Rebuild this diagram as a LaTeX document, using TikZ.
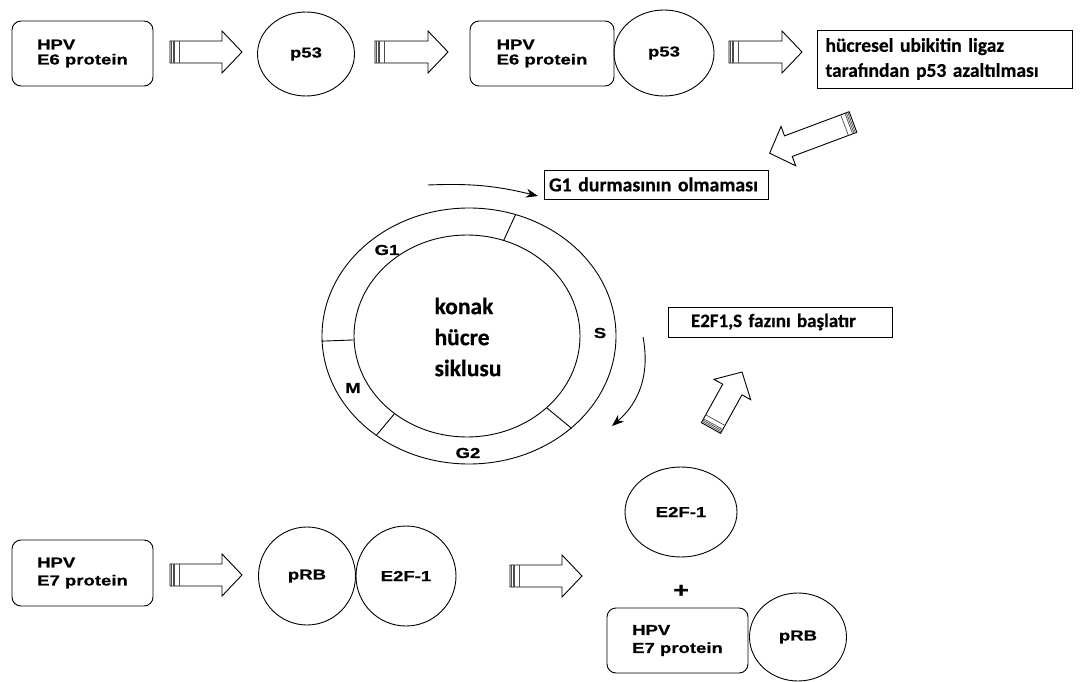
\documentclass[tikz,border=0pt]{standalone}
\usepackage{fontspec}
\setmainfont{Liberation Sans}
\newfontfamily\af{Liberation Sans Bold}[FakeStretch=1.28,FakeBold=0.6]
\newfontfamily\cb{Carlito Bold}[FakeBold=0.4]
\usetikzlibrary{shapes.geometric,arrows.meta,calc}
\begin{document}
\begin{tikzpicture}[x=1pt,y=-1pt,
  lw/.style={line width=0.9pt},
  rbox/.style={draw,lw,rounded corners=9pt,minimum width=141pt,minimum height=65pt,align=left,font=\af\fontsize{14.5}{15}\selectfont,inner sep=0pt},
  circ/.style={draw,lw,ellipse,inner sep=0pt,font=\af\fontsize{14.5}{15}\selectfont},
  tbox/.style={draw,lw,inner sep=0pt,align=left,font=\cb\fontsize{19.5}{25}\selectfont},
  lbl/.style={font=\af\fontsize{14.5}{15}\selectfont,inner sep=0pt},
  thinarrow/.style={lw,-{Stealth[length=12pt,width=9pt]}},
  pics/barrow/.style={code={
    \draw[lw,fill=white] (0,-11) -- ({#1-20},-11) -- ({#1-20},-21) -- (#1,0) -- ({#1-20},21) -- ({#1-20},11) -- (0,11) -- cycle;
    \foreach \s in {1.5,3,4.5,9}{\draw[line width=0.7pt,black!70] (\s,-11) -- (\s,11);}
  }}
]
\useasboundingbox (0,0) rectangle (1080,682);

% top row
\node[rbox] (e6a) at (82.5,53.5) {HPV\\E6 protein};
\node[circ,minimum width=97pt,minimum height=84pt] (p53a) at (306,54) {p53};
\node[rbox,minimum width=144pt] (e6b) at (542,53.5) {HPV\\E6 protein};
\node[circ,minimum width=100pt,minimum height=86pt] (p53b) at (664,53) {p53};
\node[tbox,minimum width=255pt,minimum height=58pt,text width=238pt] (ub) at (944.5,59) {hücresel ubikitin ligaz\\tarafından p53 azaltılması};

\coordinate (t1) at (170,52); \pic at (t1) {barrow=72};
\coordinate (t2) at (375,52); \pic at (t2) {barrow=73};
\coordinate (t3) at (729,52); \pic at (t3) {barrow=73};
\coordinate (t6) at (853,122); \pic[rotate=200.5] at (t6) {barrow=89};

% G1 box
\node[tbox,font=\cb\fontsize{19.8}{22}\selectfont,minimum width=224pt,minimum height=29pt,text width=214pt] (g1) at (656,184.5) {\mbox{G1 durmasının olmaması}};
\coordinate (c1s) at (428,185);
\coordinate (c1e) at (538,196);
\draw[thinarrow] (c1s) to[bend left=8] (c1e);

% cell cycle
\node[draw,lw,ellipse,minimum width=294pt,minimum height=256pt,inner sep=0pt] (outer) at (469,336) {};
\node[draw,lw,ellipse,minimum width=226pt,minimum height=202pt,inner sep=0pt] (inner) at (467,336) {};
\draw[lw] (inner.69) -- (outer.69);
\draw[lw] (inner.182) -- (outer.182);
\draw[lw] (inner.227) -- (outer.227);
\draw[lw] (inner.318.5) -- (outer.318.5);
\node[lbl] (lg1) at (387,250) {G1};
\node[lbl] (ls) at (600,333) {S};
\node[lbl] (lm) at (353,388) {M};
\node[lbl] (lg2) at (468,453) {G2};
\node[font=\cb\fontsize{23.5}{31}\selectfont,align=left,inner sep=0pt] (kh) at (468,337) {konak\\hücre\\siklusu};

\coordinate (c2s) at (643,337);
\coordinate (c2e) at (612,426);
\draw[thinarrow] (c2s) to[bend left=30] (c2e);

% E2F1 box
\node[tbox,font=\cb\fontsize{19}{22}\selectfont,minimum width=224pt,minimum height=30pt,text width=178pt] (sf) at (780,322) {E2F1,S fazını başlatır};
\coordinate (t7) at (711,428); \pic[rotate=61] at (t7) {barrow=64};

% bottom row
\node[rbox,minimum height=66pt,font=\af\fontsize{14.5}{18}\selectfont] (e7a) at (82.5,573) {HPV\\E7 protein};
\node[circ,minimum width=97pt,minimum height=98pt] (prba) at (307,576) {pRB};
\node[circ,minimum width=100pt,minimum height=100pt] (e2fa) at (406,576) {E2F-1};
\coordinate (t4) at (170,575); \pic at (t4) {barrow=72};
\coordinate (t5) at (510,576); \pic at (t5) {barrow=72};

\node[circ,minimum width=112pt,minimum height=90pt] (e2fb) at (681,512) {E2F-1};
\node[font=\af\fontsize{21}{21}\selectfont,inner sep=0pt] (plus) at (681,591) {+};
\node[rbox,font=\af\fontsize{14.5}{18}\selectfont] (e7b) at (677.5,640.5) {HPV\\E7 protein};
\node[circ,minimum width=97pt,minimum height=88pt] (prbb) at (798,637) {pRB};
\end{tikzpicture}
\end{document}
